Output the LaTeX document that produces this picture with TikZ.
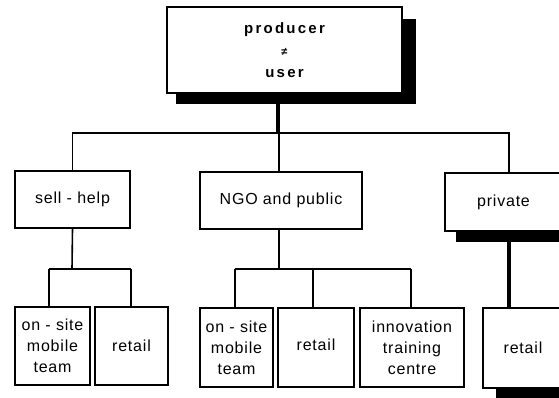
\documentclass[tikz,border=0pt]{standalone}
\usepackage{fontspec}
\usetikzlibrary{calc}
\newfontfamily\boxfont{Liberation Sans}[LetterSpace=5]
\newfontfamily\headfont{Liberation Sans}[LetterSpace=15]

\begin{document}
\begin{tikzpicture}[x=1pt,y=-1pt,
  box/.style={draw, line width=1.6pt, rectangle, inner sep=0pt, align=center,
    font=\boxfont\fontsize{16}{21}\selectfont},
  link/.style={line width=1.6pt},
  heavylink/.style={line width=3.4pt},
  shadow/.style={fill=black}]
\useasboundingbox (0,0) rectangle (559,398);
\clip (0,0) rectangle (559,398);

% head of the tree
\node[box, minimum width=235pt, minimum height=86pt,
  font=\headfont\bfseries\fontsize{15}{22}\selectfont] (head) at (284.5,50)
  {producer\\{\fontsize{11}{22}\selectfont ≠}\\user};
\fill[shadow] ($(head.south west)+(10,0)$) rectangle ($(head.south east)+(13,10)$);
\fill[shadow] ($(head.north east)+(0,13)$) rectangle ($(head.south east)+(13,10)$);

% second level
\node[box, minimum width=115pt, minimum height=57pt] (self) at (72.5,199.5) {sell - help};
\node[box, minimum width=162pt, minimum height=57pt] (ngo) at (281,200.5) {NGO and public};
\node[box, minimum width=117pt, minimum height=58pt] (priv) at (503.5,202) {private};
\fill[shadow] ($(priv.south west)+(12,0)$) rectangle ($(priv.south east)+(0,10)$);

% third level
\node[box, minimum width=75pt, minimum height=78pt] (os1) at (52.5,346) {on - site\\mobile\\team};
\node[box, minimum width=73pt, minimum height=78pt] (rt1) at (131.5,346) {retail};
\node[box, minimum width=73pt, minimum height=79pt] (os2) at (236.5,347.5) {on - site\\mobile\\team};
\node[box, minimum width=76pt, minimum height=79pt] (rt2) at (316,347.5) {\raisebox{5pt}{retail}};
\node[box, minimum width=104pt, minimum height=79pt] (inn) at (412,347.5) {innovation\\training\\centre};
\node[box, minimum width=80pt, minimum height=80pt] (rt3) at (523,348) {retail};
\fill[shadow] ($(rt3.south west)+(14,0)$) rectangle ($(rt3.south east)+(0,10)$);

% junctions of the connector tree
\coordinate (hj) at (278,133);
\coordinate (sj) at (72,269);
\coordinate (nj) at (279,269);
\coordinate (sl) at (49,269);
\coordinate (sr) at (131,269);
\coordinate (nl) at (235,269);
\coordinate (nm) at (313,269);
\coordinate (nr) at (411,269);
\coordinate (pv) at (509,133);

% head to second level
\draw[heavylink] ($(head.south)+(-6.5,10)$) -- (hj);
\draw[link] (hj) -| (self.north);
\draw[link] (hj -| nj) -- (nj |- ngo.north);
\draw[line width=2.8pt] ([xshift=-1pt]hj) -- (pv) -- (pv |- priv.north);

% self-help branch
\draw[link] (self.south) -- (sj);
\draw[link] (sl) -- (sr);
\draw[link] (sl) -- (sl |- os1.north);
\draw[link] (sr) -- (sr |- rt1.north);

% NGO and public branch
\draw[link] (nj |- ngo.south) -- (nj);
\draw[link] (nl) -- (nr);
\draw[link] (nl) -- (nl |- os2.north);
\draw[link] (nm) -- (nm |- rt2.north);
\draw[link] (nr) -- (nr |- inn.north);

% private branch
\draw[heavylink] ($(pv |- priv.south)+(0,10)$) -- (pv |- rt3.north);
\end{tikzpicture}
\end{document}
